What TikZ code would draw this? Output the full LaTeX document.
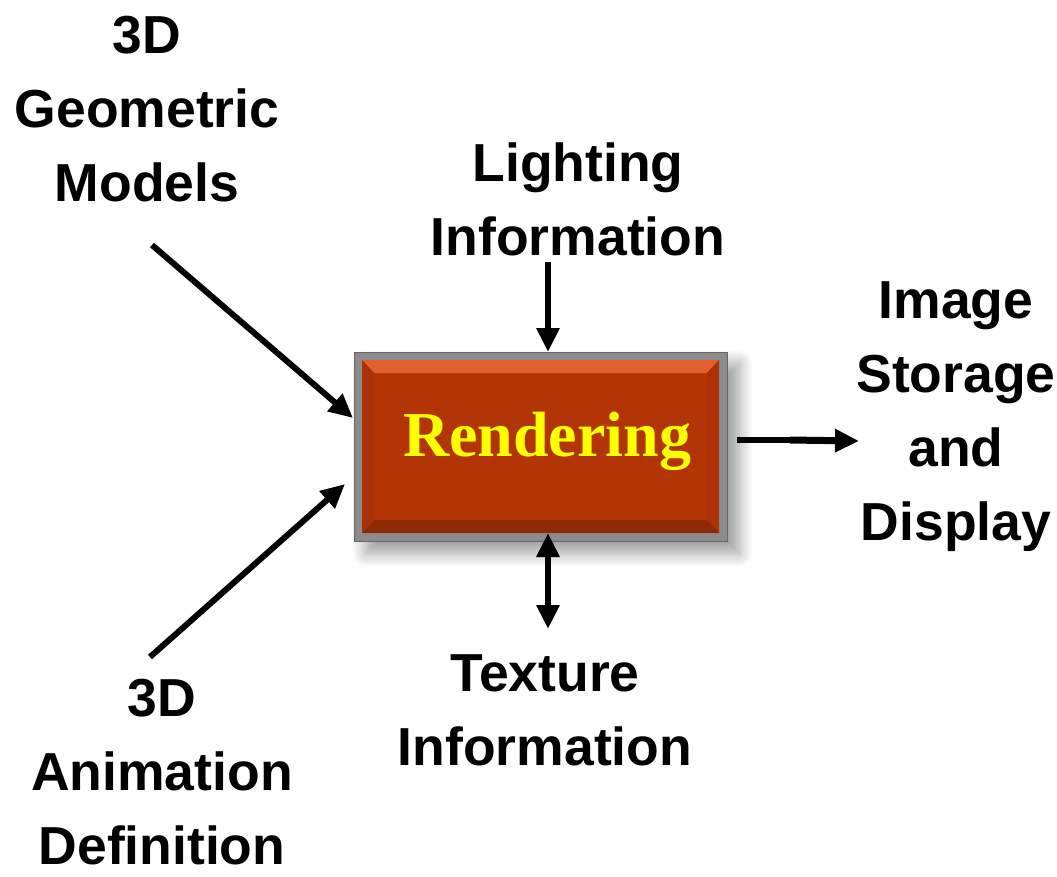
\documentclass[tikz,border=0pt]{standalone}
\usepackage{fontspec}
\setmainfont{Liberation Sans}
\newfontfamily\tnr{Liberation Serif}
\usetikzlibrary{arrows.meta,shadows.blur}
\definecolor{boxred}{HTML}{B33405}
\definecolor{bevlight}{HTML}{E2602E}
\definecolor{bevdark}{HTML}{8C2A06}
\definecolor{bevside}{HTML}{AA3204}
\definecolor{frame}{HTML}{8C8C8C}
\definecolor{renderyellow}{HTML}{FFFF00}
\tikzset{
  lab/.style={align=center, inner sep=0pt, font=\fontsize{53.5}{74}\selectfont\bfseries},
  conn/.style={line width=6pt, -{Triangle[length=24pt,width=22pt]}},
  dconn/.style={line width=6pt, {Triangle[length=24pt,width=22pt]}-{Triangle[length=24pt,width=22pt]}},
}
\begin{document}
\begin{tikzpicture}[x=1pt,y=-1pt]
\useasboundingbox (0,0) rectangle (1057,876);
% box with frame and shadow
\node[draw=gray!80!black, line width=1pt, fill=frame, minimum width=373pt, minimum height=189pt, inner sep=0pt,
      blur shadow={shadow xshift=12pt, shadow yshift=-12pt, shadow blur steps=14, shadow blur radius=14pt, shadow opacity=40}]
      (box) at (540.5,446.5) {};
\fill[boxred] (362,360) rectangle (719,533);
\fill[bevlight] (362,360) -- (719,360) -- (707,373) -- (374,373) -- cycle;
\fill[bevdark] (362,533) -- (719,533) -- (707,520) -- (374,520) -- cycle;
\fill[bevside] (362,360) -- (374,373) -- (374,520) -- (362,533) -- cycle;
\fill[bevside] (719,360) -- (707,373) -- (707,520) -- (719,533) -- cycle;
\node[font=\tnr\fontsize{64}{70}\selectfont\bfseries, text=renderyellow, inner sep=0pt] (rtext) at (547,441) {Rendering};
% labels
\node[lab] (geo) at (147,109) {3D\\Geometric\\Models};
\node[lab] (light) at (578,199) {Lighting\\Information};
\node[lab] (img) at (956,417) {Image\\Storage\\and\\Display};
\node[lab] (tex) at (545,710) {Texture\\Information};
\node[lab, text depth=0pt, anchor=south] (anim) at (162,865) {3D\\Animation\\Definition};
% connector end points
\coordinate (geoS) at (152,245);
\coordinate (geoE) at (353,418);
\coordinate (animS) at (150,657);
\coordinate (animE) at (345,484);
\coordinate (lightS) at (548,262);
\coordinate (lightE) at (548,352);
\coordinate (texA) at (548,533);
\coordinate (texB) at (548,629);
\coordinate (outS) at (737,440);
\coordinate (outM) at (790,440);
\coordinate (outE) at (859,441);
% connectors
\draw[conn] (geoS) -- (geoE);
\draw[conn] (animS) -- (animE);
\draw[conn] (lightS) -- (lightE);
\draw[dconn] (texA) -- (texB);
\draw[line width=6pt] (outS) -- (outM);
\draw[conn, line width=7pt] (outM) -- (outE);
\end{tikzpicture}
\end{document}
